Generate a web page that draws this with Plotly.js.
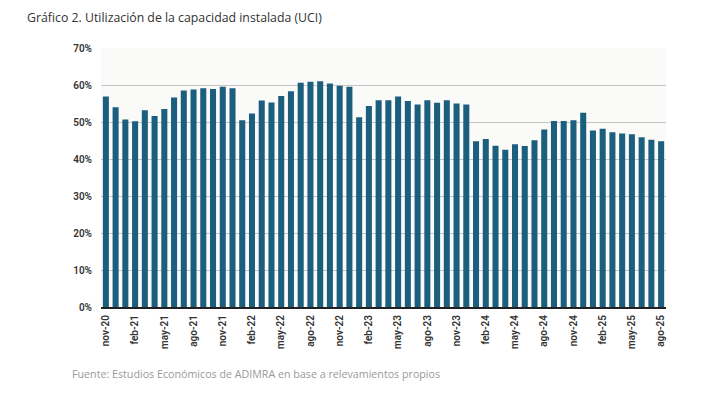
<!DOCTYPE html>
<html>
<head>
<meta charset="utf-8">
<script src="https://cdn.plot.ly/plotly-3.0.1.min.js"></script>
<style>html,body{margin:0;padding:0;background:#fff;}#chart{width:724px;height:398px;}</style>
</head>
<body>
<div id="chart"></div>
<script>
const months = ["nov-20","dic-20",
"ene-21","feb-21","mar-21","abr-21","may-21","jun-21","jul-21","ago-21","sep-21","oct-21","nov-21","dic-21",
"ene-22","feb-22","mar-22","abr-22","may-22","jun-22","jul-22","ago-22","sep-22","oct-22","nov-22","dic-22",
"ene-23","feb-23","mar-23","abr-23","may-23","jun-23","jul-23","ago-23","sep-23","oct-23","nov-23","dic-23",
"ene-24","feb-24","mar-24","abr-24","may-24","jun-24","jul-24","ago-24","sep-24","oct-24","nov-24","dic-24",
"ene-25","feb-25","mar-25","abr-25","may-25","jun-25","jul-25","ago-25"];
const uci = [56.9,54.0,
50.7,50.2,53.2,51.6,53.5,56.6,58.5,58.8,59.1,58.9,59.5,59.1,
50.5,52.3,55.8,55.3,57.0,58.3,60.6,60.9,61.0,60.4,59.8,59.5,
51.3,54.3,55.9,55.9,56.9,55.7,54.7,55.9,55.2,55.9,55.0,54.7,
44.8,45.4,43.6,42.5,44.0,43.5,45.1,48.0,50.3,50.3,50.5,52.5,
47.7,48.2,47.2,46.9,46.7,45.9,45.2,44.8];
const tickLabels = months.filter((m, i) => i % 3 === 0);
const yTicks = [0,10,20,30,40,50,60,70];

const trace = {
  type: 'bar', x: months, y: uci,
  marker: {color: '#1c5e7e'},
  hoverinfo: 'x+y'
};
const layout = {
  width: 724, height: 398,
  margin: {l: 101, r: 58, t: 48, b: 91},
  paper_bgcolor: '#ffffff',
  plot_bgcolor: '#fafaf8',
  bargap: 0.38,
  showlegend: false,
  title: {
    text: 'Gráfico 2. Utilización de la capacidad instalada (UCI)',
    xref: 'container', yref: 'container',
    x: 27/724, xanchor: 'left', y: 1 - 18/398, yanchor: 'middle',
    font: {family: 'Open Sans, sans-serif', size: 12.3, color: '#333333'}
  },
  xaxis: {
    type: 'category', range: [-0.5, 57.5],
    tickmode: 'array', tickvals: tickLabels, ticktext: tickLabels,
    tickangle: -90, ticks: '', showgrid: false,
    ticklabelstandoff: 2,
    tickfont: {family: 'Roboto, sans-serif', size: 10, color: '#333333', weight: 600},
    showline: true, linecolor: '#222222', linewidth: 2,
    fixedrange: true
  },
  yaxis: {
    range: [0, 70], tickmode: 'array', tickvals: yTicks,
    ticktext: yTicks.map(v => v + '%'),
    showgrid: true, gridcolor: '#c6c6c6', gridwidth: 1,
    zeroline: false, ticks: '', ticklen: 0,
    ticklabelstandoff: 8,
    tickfont: {family: 'Roboto, sans-serif', size: 10, color: '#333333', weight: 600},
    fixedrange: true
  },
  annotations: [{
    text: 'Fuente: Estudios Económicos de ADIMRA en base a relevamientos propios',
    xref: 'paper', yref: 'paper', x: (70-101)/565, y: (307-374)/259,
    xanchor: 'left', yanchor: 'middle', showarrow: false,
    font: {family: 'Open Sans, sans-serif', size: 10.7, color: '#9a9a9a'}
  }]
};
Plotly.newPlot('chart', [trace], layout, {displayModeBar: false, staticPlot: true});
</script>
</body>
</html>
